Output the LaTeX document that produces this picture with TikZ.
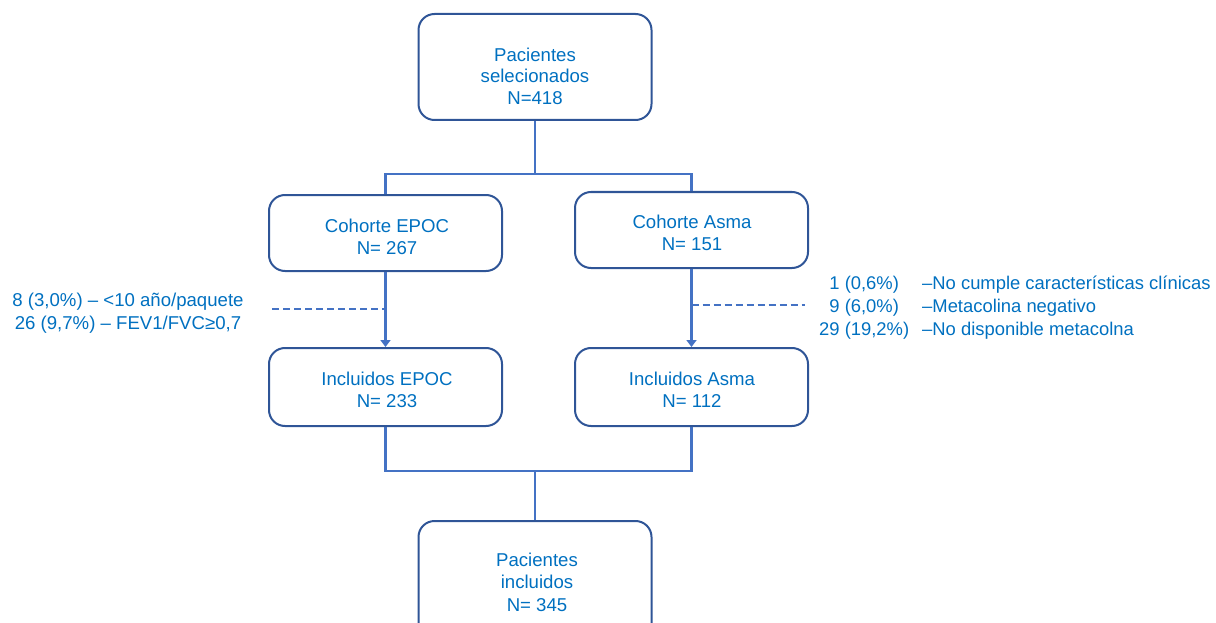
\documentclass[tikz,border=0pt]{standalone}
\usepackage{fontspec}
\setmainfont{Liberation Sans}
\usetikzlibrary{arrows.meta}
\definecolor{txt}{RGB}{0,112,192}
\definecolor{bord}{RGB}{47,85,151}
\definecolor{ln}{RGB}{68,114,196}
\begin{document}
\begin{tikzpicture}[x=1pt,y=-1pt,
  box/.style={draw=bord, line width=2pt, rounded corners=16pt, minimum width=233pt, inner sep=0pt},
  lbl/.style={text=txt, align=center, font=\fontsize{18.6}{22.5}\selectfont, inner sep=0pt},
  conn/.style={draw=ln, line width=2.8pt, line join=miter},
  arr/.style={conn, -{Triangle[length=7pt,width=10pt]}},
  dsh/.style={draw=ln, line width=2.4pt, dash pattern=on 7pt off 4pt}]
\useasboundingbox (0,0) rectangle (1216,623);
\clip (0,0) rectangle (1216,623);
% boxes
\node[box, minimum height=106pt] (top) at (535,67) {};
\node[box, minimum height=76pt] (ce) at (385.5,233) {};
\node[box, minimum height=76pt] (ca) at (691.5,230) {};
\node[box, minimum height=78pt] (ie) at (385.5,387) {};
\node[box, minimum height=78pt] (ia) at (691.5,387) {};
\node[box, minimum height=140pt] (bot) at (535,591) {};
% texts
\node[lbl, font=\fontsize{18.6}{21.5}\selectfont] (ttop) at (535,76) {Pacientes\\selecionados\\N=418};
\node[lbl] (tce) at (387,237) {Cohorte EPOC\\N= 267};
\node[lbl] (tca) at (692,233) {Cohorte Asma\\N= 151};
\node[lbl] (tie) at (387,390) {Incluidos EPOC\\N= 233};
\node[lbl] (tia) at (692,390) {Incluidos Asma\\N= 112};
\node[lbl] (tbot) at (537,582) {Pacientes\\incluidos\\N= 345};
\node[lbl, font=\fontsize{18.6}{23}\selectfont] (tleft) at (128,313) {8 (3,0\%) – <10 año/paquete\\26 (9,7\%) – FEV1/FVC≥0,7};
\node[lbl, font=\fontsize{18.4}{23}\selectfont, anchor=west] (tright) at (819,308)
  {\begin{tabular}{@{}c@{\hspace{13pt}}l@{}}1 (0,6\%) & –No cumple características clínicas\\
   9 (6,0\%) & –Metacolina negativo\\
   29 (19,2\%) & –No disponible metacolna\end{tabular}};
% connectors
\coordinate (jt) at (535,174);
\coordinate (jl) at (385.5,174);
\coordinate (jr) at (691.5,174);
\draw[conn] (top.south) -- (jt);
\draw[conn] (ce.north) -- (jl) -- (jr) -- (ca.north);
\draw[arr] (ce.south) -- (ie.north);
\draw[arr] (ca.south) -- (ia.north);
\coordinate (jb) at (535,471);
\coordinate (jbl) at (385.5,471);
\coordinate (jbr) at (691.5,471);
\draw[conn] (ie.south) -- (jbl) -- (jbr) -- (ia.south);
\draw[conn] (jb) -- (bot.north);
\coordinate (dl) at (272,309);
\coordinate (dr) at (805,305);
\draw[dsh] (dl) -- (dl -| ce.south);
\draw[dsh] (dr -| ca.south) -- (dr);
\end{tikzpicture}
\end{document}
